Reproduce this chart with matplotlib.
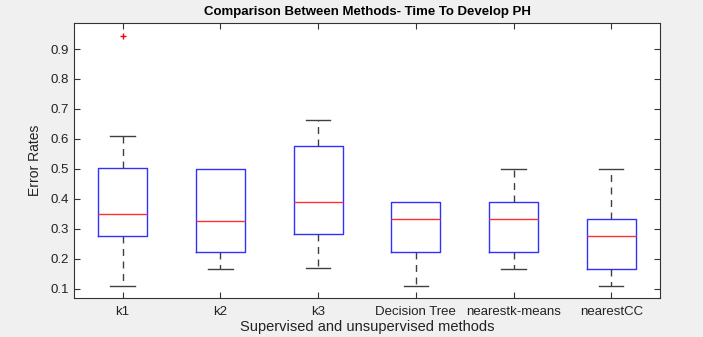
import matplotlib.pyplot as plt

plt.rcParams['font.family'] = ['Liberation Sans', 'DejaVu Sans']

# box statistics
methods = ['k1', 'k2', 'k3', 'Decision Tree', 'nearestk-means', 'nearestCC']
whislo = [0.11, 0.167, 0.17, 0.11, 0.167, 0.11]
q1 = [0.277, 0.222, 0.282, 0.222, 0.222, 0.167]
med = [0.349, 0.327, 0.389, 0.333, 0.333, 0.278]
q3 = [0.503, 0.5, 0.578, 0.389, 0.389, 0.333]
whishi = [0.611, 0.5, 0.664, 0.389, 0.5, 0.5]
fliers = [[0.944], [], [], [], [], []]

stats = []
for i in range(len(methods)):
    stats.append(dict(label=methods[i], whislo=whislo[i], q1=q1[i], med=med[i],
                      q3=q3[i], whishi=whishi[i], fliers=fliers[i]))

fig = plt.figure(figsize=(7.03, 3.37), dpi=100, facecolor='#f0f0f0')
ax = fig.add_axes([0.105, 0.116, 0.834, 0.816])

bp = ax.bxp(stats, widths=0.5,
            boxprops=dict(color='#3030ff', linewidth=1.0),
            medianprops=dict(color='#ff3030', linewidth=1.0),
            whiskerprops=dict(color='#404040', linestyle=(0, (5, 4)), linewidth=1.0),
            capprops=dict(color='#404040', linewidth=1.0),
            capwidths=0.25,
            flierprops=dict(marker='+', markeredgecolor='red', markersize=5, linestyle='none'))

# upper caps sitting on the box edge are hidden behind it in the reference
for i in range(len(methods)):
    if whishi[i] == q3[i]:
        bp['caps'][2 * i + 1].set_visible(False)
        bp['whiskers'][2 * i + 1].set_visible(False)

ax.set_xlim(0.5, 6.5)
ax.set_ylim(0.07, 0.987)
ax.set_yticks([0.1, 0.2, 0.3, 0.4, 0.5, 0.6, 0.7, 0.8, 0.9])
ax.tick_params(direction='in', top=True, right=True, length=4, labelsize=9.5,
               color='#333333', labelcolor='#222222')
ax.tick_params(axis='x', pad=6)
for s in ax.spines.values():
    s.set_color('#333333')
    s.set_linewidth(0.8)

ax.set_title('Comparison Between Methods- Time To Develop PH', fontsize=9.5,
             fontweight='bold', pad=6)
ax.set_ylabel('Error Rates', fontsize=10, color='#222222', labelpad=6)
ax.set_xlabel('Supervised and unsupervised methods', fontsize=10.5,
              color='#222222', labelpad=1)

fig.savefig('out.png', dpi=100, facecolor=fig.get_facecolor())
